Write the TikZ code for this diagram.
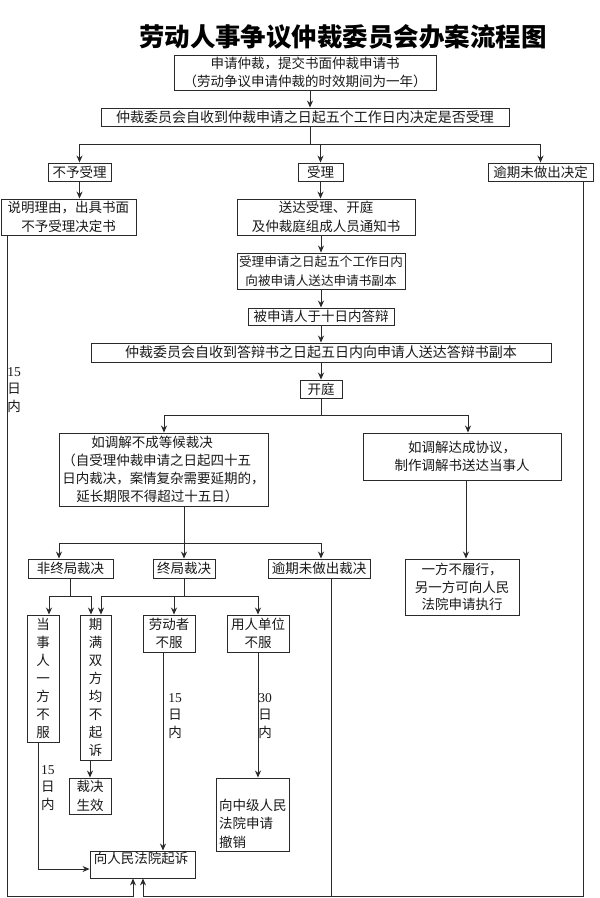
\documentclass[tikz,border=0pt]{standalone}
\usepackage{fontspec}
\setmainfont{Noto Sans CJK SC}
\newfontfamily\numfont{Liberation Serif}
\usetikzlibrary{arrows.meta,calc}
\definecolor{lncol}{HTML}{2A2A2A}
\begin{document}
\begin{tikzpicture}[x=1pt,y=-1pt,
  box/.style={draw=lncol, line width=0.9pt, inner sep=0pt, align=center, font=\fontsize{13.5}{18.5}\selectfont, text=black!90},
  vbox/.style={box, font=\fontsize{13.5}{18.1}\selectfont},
  wire/.style={draw=lncol, line width=0.9pt},
  arr/.style={wire, -{Stealth[length=7pt,width=6pt]}},
  lab/.style={inner sep=0pt, align=center, font=\fontsize{13.5}{17.8}\selectfont, text=black!90},
  txt/.style={inner sep=0pt, align=left, font=\fontsize{13.5}{18.3}\selectfont, text=black!90},
]
\useasboundingbox (0,0) rectangle (600,898);

% title
\node[font=\fontsize{25.5}{28}\selectfont\bfseries] (title) at (343,37) {劳动人事争议仲裁委员会办案流程图};

% boxes
\node[box, minimum width=262pt, minimum height=35pt] (b1) at (305,72.5) {申请仲裁，提交书面仲裁申请书\\（劳动争议申请仲裁的时效期间为一年）};
\node[box, minimum width=408pt, minimum height=18pt, font=\fontsize{14}{18}\selectfont] (b2) at (305,117) {仲裁委员会自收到仲裁申请之日起五个工作日内决定是否受理};
\node[box, minimum width=63pt, minimum height=18pt] (nb) at (79.5,172) {不予受理};
\node[box, minimum width=45pt, minimum height=18pt] (sl) at (320.5,172) {受理};
\node[box, minimum width=105pt, minimum height=18pt] (yq) at (540.5,172) {逾期未做出决定};
\node[box, minimum width=135pt, minimum height=36pt] (sm) at (68.5,217) {说明理由，出具书面\\不予受理决定书};
\node[box, minimum width=178pt, minimum height=36pt] (sd) at (326,217) {送达受理、开庭\\及仲裁庭组成人员通知书};
\node[box, minimum width=168pt, minimum height=36pt, font=\fontsize{12.6}{18.5}\selectfont] (s3) at (321,271) {受理申请之日起五个工作日内\\向被申请人送达申请书副本};
\node[box, minimum width=146pt, minimum height=17pt] (s4) at (321,316.5) {被申请人于十日内答辩};
\node[box, minimum width=460pt, minimum height=19pt, font=\fontsize{14}{18}\selectfont] (s5) at (321,352.5) {仲裁委员会自收到答辩书之日起五日内向申请人送达答辩书副本};
\node[box, minimum width=42pt, minimum height=18pt] (kt) at (321,389) {开庭};
\node[box, minimum width=209pt, minimum height=73pt, align=left, font=\fontsize{13.5}{17.8}\selectfont] (lb) at (163.5,469.5) {\hspace*{29pt}如调解不成等候裁决\\（自受理仲裁申请之日起四十五\\日内裁决，案情复杂需要延期的，\\\hspace*{14pt}延长期限不得超过十五日）};
\node[box, minimum width=198pt, minimum height=47pt] (rb) at (462,456.5) {如调解达成协议，\\制作调解书送达当事人};
\node[box, minimum width=114pt, minimum height=56pt, font=\fontsize{13.5}{17.5}\selectfont] (yl) at (462,587) {一方不履行，\\另一方可向人民\\法院申请执行};
\node[box, minimum width=85pt, minimum height=19pt] (fz) at (70.5,568.5) {非终局裁决};
\node[box, minimum width=62pt, minimum height=19pt] (zj) at (184,568.5) {终局裁决};
\node[box, minimum width=102pt, minimum height=19pt] (yc) at (319,568.5) {逾期未做出裁决};
\node[vbox, minimum width=32pt, minimum height=127pt] (dsr) at (43,678.5) {当\\事\\人\\一\\方\\不\\服};
\node[vbox, minimum width=31pt, minimum height=145pt] (qm) at (95.5,687.5) {期\\满\\双\\方\\均\\不\\起\\诉};
\node[box, minimum width=52pt, minimum height=37pt] (ldz) at (169,633.5) {劳动者\\不服};
\node[box, minimum width=62pt, minimum height=37pt] (yrd) at (258,633.5) {用人单位\\不服};
\node[box, minimum width=42pt, minimum height=36pt, align=left] (cjsx) at (90,796) {裁决\\生效};
\node[box, minimum width=73pt, minimum height=73pt] (zjfy) at (252.5,814.5) {};
\node[txt, anchor=north west] (zjfyt) at (219,799) {向中级人民\\法院申请\\撤销};
\node[box, minimum width=105pt, minimum height=27pt] (qs) at (142.5,864.5) {};
\node[txt, anchor=center] (qst) at (141,858) {向人民法院起诉};

% labels
\node[lab] (t1) at (14,390) {{\numfont 15}\\日\\内};
\node[lab] (t2) at (48,788) {{\numfont 15}\\日\\内};
\node[lab] (t3) at (175,716) {{\numfont 15}\\日\\内};
\node[lab] (t4) at (265,716) {{\numfont 30}\\日\\内};

% top chain
\draw[arr] ([xshift=5pt]b1.south) -- ([xshift=5pt]b1.south |- b2.north);
\coordinate (j1) at (310,144);
\draw[wire] ([xshift=5pt]b2.south) -- (j1);
\draw[wire] (nb.north |- j1) -- (yq.north |- j1);
\draw[arr] (nb.north |- j1) -- (nb.north);
\draw[arr] (sl.north |- j1) -- (sl.north);
\draw[arr] (yq.north |- j1) -- (yq.north);
\draw[arr] (nb.south) -- (nb.south |- sm.north);
\draw[arr] (sl.south) -- (sl.south |- sd.north);
\draw[arr] (s3.north |- sd.south) -- (s3.north);
\draw[arr] (s3.south) -- (s4.north);
\draw[arr] (s4.south) -- (s5.north);
\draw[arr] (s5.south) -- (kt.north);

% hearing branch
\coordinate (j2L) at (164,415);
\coordinate (j2R) at (468,415);
\draw[wire] (kt.south) -- (kt.south |- j2L);
\draw[wire] (j2L) -- (j2R);
\draw[arr] (j2L) -- (j2L |- lb.north);
\draw[arr] (j2R) -- (j2R |- rb.north);
\draw[arr] ([xshift=4pt]rb.south) -- ([xshift=4pt]rb.south |- yl.north);

% award branch
\coordinate (j3a) at (59,543);
\coordinate (j3b) at (184,543);
\coordinate (j3c) at (321,543);
\draw[wire] (j3b |- lb.south) -- (j3b);
\draw[wire] (j3a) -- (j3c);
\draw[arr] (j3a) -- (j3a |- fz.north);
\draw[arr] (j3b) -- (j3b |- zj.north);
\draw[arr] (j3c) -- (j3c |- yc.north);

% non-final
\coordinate (j4) at (70,596);
\coordinate (a1) at (49,596);
\coordinate (a2) at (91,596);
\draw[wire] (j4 |- fz.south) -- (j4);
\draw[wire] (a1) -- (a2);
\draw[arr] (a1) -- (a1 |- dsr.north);
\draw[arr] (a2) -- (a2 |- qm.north);

% final
\coordinate (j5) at (184,596);
\coordinate (a3) at (101,596);
\coordinate (a4) at (174,596);
\coordinate (a5) at (258,596);
\draw[wire] (j5 |- zj.south) -- (j5);
\draw[wire] (a3) -- (a5);
\draw[arr] (a3) -- (a3 |- qm.north);
\draw[arr] (a4) -- (a4 |- ldz.north);
\draw[arr] (a5) -- (a5 |- yrd.north);

% lower verticals
\coordinate (c1) at (90,760);
\draw[arr] (c1 |- qm.south) -- (c1 |- cjsx.north);
\coordinate (c2) at (163,652);
\draw[arr] (c2 |- ldz.south) -- (c2 |- qs.north);
\draw[arr] (a5 |- yrd.south) -- (a5 |- zjfy.north);

% to court
\coordinate (d1) at (38,869);
\draw[arr] (d1 |- dsr.south) -- (d1) -- (d1 -| qs.west);

\coordinate (e1) at (7,896);
\coordinate (e2) at (133,896);
\draw[arr] (e1 |- sm.south) -- (e1) -- (e2) -- (e2 |- qs.south);

\coordinate (f1) at (583,896);
\coordinate (f2) at (143,896);
\coordinate (f3) at (331,896);
\draw[arr] (f1 |- yq.south) -- (f1) -- (f2) -- (f2 |- qs.south);
\draw[wire] (f3 |- yc.south) -- (f3);
\end{tikzpicture}
\end{document}
